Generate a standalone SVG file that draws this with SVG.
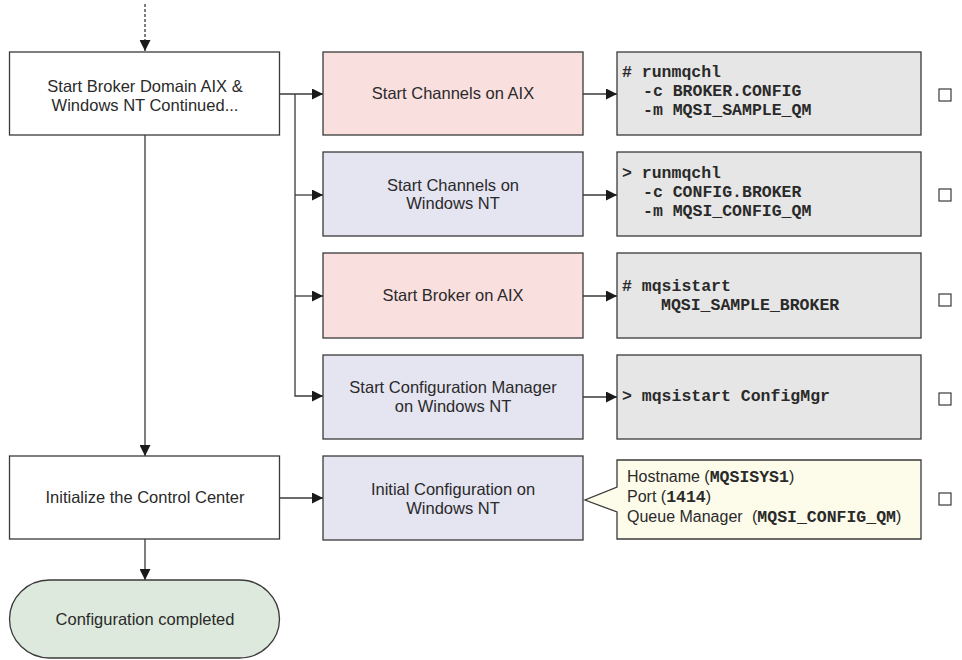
<svg xmlns="http://www.w3.org/2000/svg" width="962" height="660" viewBox="0 0 962 660">
<style>
.box{stroke:#3a3a3a;stroke-width:1.3}
.w{fill:#ffffff}
.pink{fill:#fadfdf}
.lav{fill:#e5e4f1}
.code{fill:#e6e6e6}
.note{fill:#fdfbea}
.term{fill:#dde9dc}
.t{font-family:"Liberation Sans",Arial,sans-serif;font-size:16.5px;fill:#2a2a2a;text-anchor:middle}
.tl{font-family:"Liberation Sans",Arial,sans-serif;font-size:16px;fill:#2a2a2a}
.m{font-family:"Liberation Mono","Courier New",monospace;font-size:16.5px;font-weight:bold;fill:#2a2a2a}
.mi{font-family:"Liberation Mono","Courier New",monospace;font-size:16.5px;font-weight:bold}
.c{fill:none;stroke:#3a3a3a;stroke-width:1.3}
.chk{fill:#ffffff;stroke:#3a3a3a;stroke-width:1.2}
</style>
<defs>
<marker id="ah" viewBox="0 0 10 10" refX="10" refY="5" markerWidth="11" markerHeight="11" markerUnits="userSpaceOnUse" orient="auto">
<path d="M0,0 L10,5 L0,10 z" fill="#1a1a1a"/>
</marker>
</defs>
<g id="connectors">
<line class="c" x1="145" y1="4" x2="145" y2="51" stroke-dasharray="3,2" marker-end="url(#ah)"/>
<line class="c" x1="279" y1="94" x2="323" y2="94" marker-end="url(#ah)"/>
<polyline class="c" points="295,94 295,396 323,396" marker-end="url(#ah)"/>
<line class="c" x1="295" y1="195" x2="323" y2="195" marker-end="url(#ah)"/>
<line class="c" x1="295" y1="296" x2="323" y2="296" marker-end="url(#ah)"/>
<line class="c" x1="583" y1="94" x2="617" y2="94" marker-end="url(#ah)"/>
<line class="c" x1="583" y1="195" x2="617" y2="195" marker-end="url(#ah)"/>
<line class="c" x1="583" y1="296" x2="617" y2="296" marker-end="url(#ah)"/>
<line class="c" x1="583" y1="397" x2="617" y2="397" marker-end="url(#ah)"/>
<line class="c" x1="145" y1="135" x2="145" y2="456" marker-end="url(#ah)"/>
<line class="c" x1="279" y1="498" x2="323" y2="498" marker-end="url(#ah)"/>
<line class="c" x1="145" y1="539" x2="145" y2="580" marker-end="url(#ah)"/>
</g>
<g id="start-domain">
<rect class="box w" x="9.5" y="52" width="270" height="83"/>
<text class="t" x="145" y="92">Start Broker Domain AIX &amp;</text>
<text class="t" x="145" y="111">Windows NT Continued...</text>
</g>
<g id="channels-aix">
<rect class="box pink" x="323" y="52" width="260" height="83"/>
<text class="t" x="453" y="99">Start Channels on AIX</text>
</g>
<g id="channels-nt">
<rect class="box lav" x="323" y="152" width="260" height="84"/>
<text class="t" x="453" y="191">Start Channels on</text>
<text class="t" x="453" y="209">Windows NT</text>
</g>
<g id="broker-aix">
<rect class="box pink" x="323" y="253" width="260" height="85"/>
<text class="t" x="453" y="301">Start Broker on AIX</text>
</g>
<g id="configmgr-nt">
<rect class="box lav" x="323" y="355" width="260" height="84"/>
<text class="t" x="453" y="393">Start Configuration Manager</text>
<text class="t" x="453" y="412">on Windows NT</text>
</g>
<g id="code-1">
<rect class="box code" x="617" y="52" width="304" height="83"/>
<text class="m" x="622" y="77"># runmqchl</text>
<text class="m" x="643" y="96">-c BROKER.CONFIG</text>
<text class="m" x="643" y="115">-m MQSI_SAMPLE_QM</text>
</g>
<g id="code-2">
<rect class="box code" x="617" y="152" width="304" height="84"/>
<text class="m" x="622" y="178">&gt; runmqchl</text>
<text class="m" x="643" y="197">-c CONFIG.BROKER</text>
<text class="m" x="643" y="216">-m MQSI_CONFIG_QM</text>
</g>
<g id="code-3">
<rect class="box code" x="617" y="253" width="304" height="85"/>
<text class="m" x="622" y="291"># mqsistart</text>
<text class="m" x="661" y="310">MQSI_SAMPLE_BROKER</text>
</g>
<g id="code-4">
<rect class="box code" x="617" y="355" width="304" height="84"/>
<text class="m" x="622" y="401">&gt; mqsistart ConfigMgr</text>
</g>
<g id="init-cc">
<rect class="box w" x="9.5" y="456" width="270" height="83"/>
<text class="t" x="145" y="503">Initialize the Control Center</text>
</g>
<g id="init-config-nt">
<rect class="box lav" x="323" y="456" width="260" height="84"/>
<text class="t" x="453" y="495">Initial Configuration on</text>
<text class="t" x="453" y="514">Windows NT</text>
</g>
<g id="callout">
<path class="box note" d="M617,460 L921,460 L921,539 L617,539 L617,512 L585,500 L617,487 Z"/>
<text class="tl" x="627" y="482">Hostname (<tspan class="mi">MQSISYS1</tspan>)</text>
<text class="tl" x="627" y="502">Port (<tspan class="mi">1414</tspan>)</text>
<text class="tl" x="627" y="522">Queue Manager <tspan x="752">(</tspan><tspan class="mi">MQSI_CONFIG_QM</tspan>)</text>
</g>
<g id="done">
<rect class="box term" x="9.5" y="580" width="270" height="78" rx="40" ry="39"/>
<text class="t" x="145" y="625">Configuration completed</text>
</g>
<g id="checkboxes">
<rect class="chk" x="939" y="89" width="12" height="12"/>
<rect class="chk" x="939" y="189" width="12" height="12"/>
<rect class="chk" x="939" y="294" width="12" height="12"/>
<rect class="chk" x="939" y="393" width="12" height="12"/>
<rect class="chk" x="939" y="493" width="12" height="12"/>
</g>
</svg>
